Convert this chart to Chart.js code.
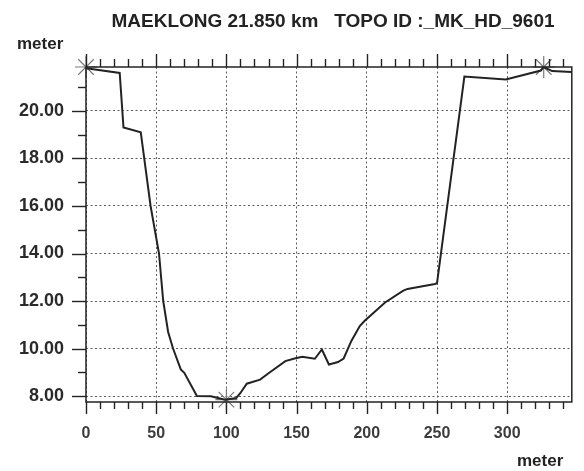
<!DOCTYPE html>
<html>
<head>
<meta charset="utf-8">
<title>MAEKLONG 21.850 km</title>
<script src="https://cdn.jsdelivr.net/npm/chart.js@4.4.1/dist/chart.umd.min.js"></script>
<style>
  html, body { margin: 0; padding: 0; background: #fff; }
  #wrap { width: 584px; height: 471px; }
</style>
</head>
<body>
<div id="wrap"><canvas id="profileChart" width="584" height="471"></canvas></div>
<script>
// cross-section values
const distance  = [0, 24, 26.7, 39, 46, 52, 55, 58.5, 62, 67.5, 70, 79, 89, 94, 99, 107, 110, 114.5, 124, 130.5,
                   142, 148.5, 154, 163, 168, 173, 179.5, 183.5, 189, 195, 198.5, 213, 226, 229, 248.5, 250,
                   269.5, 299, 324, 326, 332, 346];
const elevation = [21.8, 21.6, 19.3, 19.1, 16.0, 14.0, 12.0, 10.7, 10.0, 9.12, 8.98, 8.0, 7.99, 7.92, 7.85, 7.92, 8.13, 8.52, 8.69, 8.98,
                   9.47, 9.58, 9.65, 9.57, 9.96, 9.33, 9.43, 9.58, 10.32, 10.95, 11.17, 11.94, 12.44, 12.51, 12.72, 12.75,
                   21.45, 21.32, 21.7, 21.85, 21.68, 21.64];
const markerX = [0, 100, 326];
const markerY = [21.85, 7.85, 21.85];

const xTicks = [0, 50, 100, 150, 200, 250, 300];
const yTicks = [8, 10, 12, 14, 16, 18, 20];
const xMinorStep = 10;
const yMinorStep = 1;

const X_MIN = 0, X_MAX = 346;
const Y_MIN = 7.75, Y_MAX = 21.85;

const INK = "#232323";

/* ================================================================
   FRAME, TICKS AND TEXT
   ================================================================ */
function strokeSeg(ctx, x1, y1, x2, y2) {
  ctx.beginPath();
  ctx.moveTo(x1, y1);
  ctx.lineTo(x2, y2);
  ctx.stroke();
}

const framePlugin = {
  id: "frame",
  afterDraw(chart) {
    const ctx = chart.ctx;
    const a = chart.chartArea;
    const xs = chart.scales.x, ys = chart.scales.y;
    ctx.save();
    ctx.setLineDash([]);
    ctx.strokeStyle = INK;
    ctx.lineWidth = 1.5;
    ctx.strokeRect(a.left, a.top, a.right - a.left, a.bottom - a.top);

    ctx.lineWidth = 1.4;
    // top and bottom ticks, every 10 m, longer at the labelled ones
    for (let v = X_MIN; v <= X_MAX; v += xMinorStep) {
      const px = Math.round(xs.getPixelForValue(v)) + 0.5;
      const major = v % 50 === 0;
      strokeSeg(ctx, px, a.top, px, a.top - (major ? 13 : 8));
      strokeSeg(ctx, px, a.bottom, px, a.bottom + (major ? 12 : 7));
    }
    // left ticks, every metre, longer at the labelled ones
    for (let v = 8; v <= Y_MAX; v += yMinorStep) {
      const py = Math.round(ys.getPixelForValue(v)) + 0.5;
      const major = v % 2 === 0;
      strokeSeg(ctx, a.left, py, a.left - (major ? 14 : 8), py);
    }

    ctx.fillStyle = INK;
    ctx.textBaseline = "middle";
    ctx.font = "bold 19px 'Liberation Sans', Arial, sans-serif";
    ctx.textAlign = "center";
    ctx.fillText("MAEKLONG 21.850 km   TOPO ID :_MK_HD_9601", 333, 22);
    ctx.font = "bold 17px 'Liberation Sans', Arial, sans-serif";
    ctx.textAlign = "left";
    ctx.fillText("meter", 17, 44);
    ctx.fillText("meter", 517, 461);
    ctx.restore();
  }
};

function buildChart() {
  const ctx = document.getElementById("profileChart");
  new Chart(ctx, {
    data: {
      datasets: [
        {
          type: "line",
          label: "Bed profile",
          data: distance.map((d, i) => ({ x: d, y: elevation[i] })),
          borderColor: INK,
          borderWidth: 2,
          pointRadius: 0,
          tension: 0,
          fill: false
        },
        {
          type: "scatter",
          label: "Markers",
          data: markerX.map((d, i) => ({ x: d, y: markerY[i] })),
          pointStyle: "star",
          pointRadius: 11,
          borderColor: "#7a7a7a",
          borderWidth: 1.2,
          backgroundColor: "transparent",
          clip: false
        }
      ]
    },
    options: {
      responsive: false,
      animation: false,
      layout: { padding: { top: 67, right: 1, left: 0, bottom: 0 } },
      plugins: {
        legend: { display: false },
        title: { display: false },
        tooltip: { enabled: false }
      },
      scales: {
        x: {
          type: "linear",
          min: X_MIN,
          max: X_MAX,
          afterBuildTicks: s => { s.ticks = xTicks.map(v => ({ value: v })); },
          afterFit: s => { s.height = 69; },
          ticks: {
            color: "#3c3c3c",
            font: { family: "'Liberation Sans', Arial, sans-serif", size: 16, weight: "bold" },
            padding: 22,
            maxRotation: 0
          },
          grid: { color: "#5e5e5e", lineWidth: 1, drawTicks: false },
          border: { display: false, dash: [2, 2.5] }
        },
        y: {
          type: "linear",
          min: Y_MIN,
          max: Y_MAX,
          afterBuildTicks: s => { s.ticks = yTicks.map(v => ({ value: v })); },
          afterFit: s => { s.width = 86; },
          ticks: {
            color: "#2a2a2a",
            font: { family: "'Liberation Sans', Arial, sans-serif", size: 18, weight: "bold" },
            padding: 22,
            callback: v => Number(v).toFixed(2)
          },
          grid: { color: "#5e5e5e", lineWidth: 1, drawTicks: false },
          border: { display: false, dash: [2, 2.5] }
        }
      }
    },
    plugins: [framePlugin]
  });
}

buildChart();
</script>
</body>
</html>
